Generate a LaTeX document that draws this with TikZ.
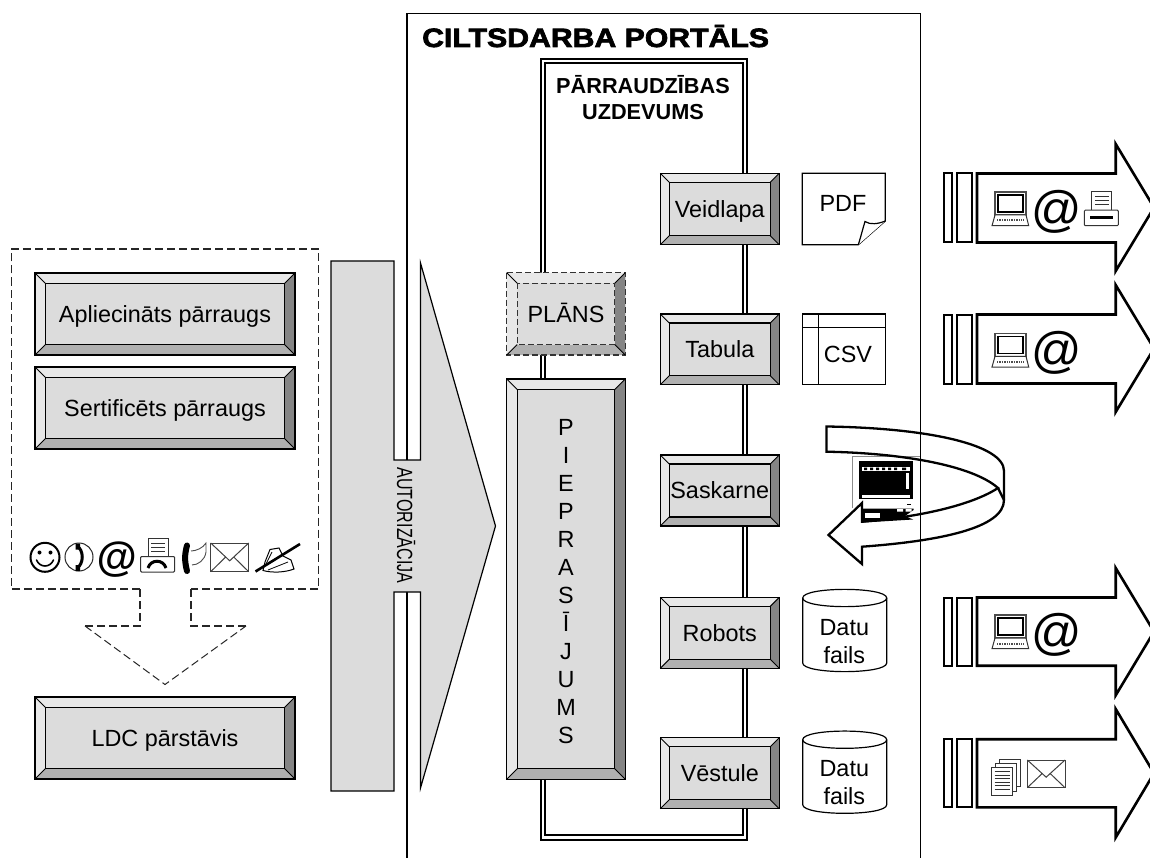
\documentclass[tikz,border=0pt]{standalone}
\usepackage{fontspec}
\usepackage{graphicx}
\setmainfont{Liberation Sans}
\newfontfamily\titlefont[UprightFont=* Bold,FakeBold=2.6,FakeStretch=1.14]{Liberation Sans}
\newcommand{\fs}[1]{\fontsize{#1}{#1}\selectfont}
\definecolor{bface}{HTML}{DCDCDC}
\definecolor{blight}{HTML}{E8E8E8}
\definecolor{bmid}{HTML}{B0B0B0}
\definecolor{bdark}{HTML}{858585}
\tikzset{
  lbl/.style={inner sep=0pt,font=\fs{23.4},text height=16.8pt,text depth=0pt,align=center},
  bline/.style={draw=black,line width=1.3pt,line join=miter},
  bdash/.style={draw=black!80,line width=1.3pt,dash pattern=on 6pt off 3pt},
  doc/.style={draw=black,line width=1.2pt,fill=white},
  bigarrow/.style={draw=black,line width=2.6pt,fill=white,line join=miter},
  dashbox/.style={draw=black!85,line width=1.3pt,dash pattern=on 8pt off 4pt},
  dline/.style={draw=black,line width=2pt,double=white,double distance=2.2pt},
  icon/.style={draw=black,line width=1pt,fill=white},
  atsign/.style={inner sep=0pt,font=\fs{50}\itshape}
}
% name,x1,y1,x2,y2,bevel,line style,text
\newcommand{\bevelbox}[8]{%
  \fill[blight] (#2,#3) -- (#4,#3) -- (#4-#6,#3+#6) -- (#2+#6,#3+#6) -- cycle;
  \fill[blight] (#2,#3) -- (#2+#6,#3+#6) -- (#2+#6,#5-#6) -- (#2,#5) -- cycle;
  \fill[bdark] (#4,#3) -- (#4,#5) -- (#4-#6,#5-#6) -- (#4-#6,#3+#6) -- cycle;
  \fill[bmid] (#2,#5) -- (#4,#5) -- (#4-#6,#5-#6) -- (#2+#6,#5-#6) -- cycle;
  \fill[bface] (#2+#6,#3+#6) rectangle (#4-#6,#5-#6);
  \draw[#7] (#2,#3) rectangle (#4,#5);
  \draw[#7] (#2+#6,#3+#6) rectangle (#4-#6,#5-#6);
  \draw[draw=black,line width=0.9pt] (#2,#3) -- (#2+#6,#3+#6) (#4,#3) -- (#4-#6,#3+#6)
     (#2,#5) -- (#2+#6,#5-#6) (#4,#5) -- (#4-#6,#5-#6);
  \node[lbl] (#1) at ({(#2+#4)/2},{(#3+#5)/2}) {#8};
}
% right-hand arrow: y of shaft top, y of shaft bottom, head top, head bottom
\newcommand{\sendarrow}[4]{%
  \draw[line width=2pt,draw=black] (943.5,#1) rectangle (951.5,#2);
  \draw[line width=2pt,draw=black] (956.5,#1) rectangle (971.5,#2);
  \draw[bigarrow] (977,#1) -- (1115.7,#1) -- (1115.7,#3+4) -- (1154,{(#3+#4)/2}) -- (1115.7,#4-4) -- (1115.7,#2) -- (977,#2) -- cycle;
}
\newcommand{\laptop}[2]{%
  \begin{scope}[shift={(#1,#2)}]
    \draw[icon,draw=black!70,line width=1.2pt] (3,0) rectangle (34,23);
    \draw[icon,line width=1.6pt] (6,3) rectangle (31,20);
    \draw[icon,draw=black!80] (3,23) -- (34,23) -- (36.7,33.7) -- (0,33.7) -- cycle;
    \draw[line width=2pt,draw=black!70,dash pattern=on 1.4pt off 1pt] (5,28.5) -- (32,28.5);
  \end{scope}}
\newcommand{\printer}[2]{%
  \begin{scope}[shift={(#1,#2)}]
    \draw[icon,draw=black!80] (7.4,0) rectangle (27.4,19);
    \draw[draw=black!80,line width=1pt] (10.5,5) -- (24.5,5) (10.5,9) -- (24.5,9) (10.5,13) -- (24.5,13);
    \draw[icon,draw=black!80,rounded corners=1pt] (0,18.5) rectangle (34,34);
    \draw[line width=3pt,draw=black] (6,26.3) -- (29,26.3);
  \end{scope}}
\newcommand{\envelope}[4]{%
  \begin{scope}[shift={(#1,#2)}]
    \draw[icon,draw=black!75] (0,0) rectangle (#3,#4);
    \draw[draw=black!75,line width=1pt] (0,0) -- ({#3/2},{#4*.62}) -- (#3,0)
      (0,#4) -- ({#3*.4},{#4*.48}) (#3,#4) -- ({#3*.6},{#4*.48});
  \end{scope}}
\begin{document}
\begin{tikzpicture}[x=1pt,y=-1pt]
\useasboundingbox (0,0) rectangle (1150,858);
\clip (0,0) rectangle (1150,858);
\fill[white] (0,0) rectangle (1150,858);

% portal
\draw[line width=1.3pt,draw=black] (407,870) -- (407,13.5) -- (920.5,13.5) -- (920.5,870);
\node[inner sep=0pt,anchor=base west,font=\titlefont\fs{26.5}] (portal) at (422,47) {CILTSDARBA PORTĀLS};

% authorisation arrow
\draw[fill=bface,draw=black,line width=1.2pt]
  (331,261) -- (394,261) -- (394,460) -- (420.5,460) -- (420.5,263) -- (495.5,526) -- (420.5,788)
  -- (420.5,592) -- (394,592) -- (394,791) -- (331,791) -- cycle;
\node[inner sep=0pt,rotate=-90,font=\fs{22}] (autor) at (406,525.5) {\scalebox{0.73}[1]{AUTORIZĀCIJA}};

% monitoring loop
\coordinate (loopA) at (543.3,61);
\coordinate (loopB) at (744.7,61);
\coordinate (loopC) at (744.7,837.5);
\coordinate (loopD) at (543.3,837.5);
\draw[dline] (loopA) -- (loopB) -- (loopC) -- (loopD) -- cycle;
\node[inner sep=0pt,align=center,anchor=base,font=\bfseries\fs{21.7}] (uzd1) at (643,94) {PĀRRAUDZĪBAS};
\node[inner sep=0pt,align=center,anchor=base,font=\bfseries\fs{21.7}] (uzd2) at (643,120) {UZDEVUMS};

% left group
\draw[dashbox] (140,589) -- (11.5,589) -- (11.5,249) -- (318.5,249) -- (318.5,589) -- (191,589);
\draw[dashbox] (140,589) -- (140,626) -- (85,626);
\draw[dashbox] (191,589) -- (191,626) -- (246,626);
\draw[dashbox,line width=1pt] (85,626) -- (165,684.5) -- (246,626);
\bevelbox{apl}{35}{273}{295}{355}{10.5}{bline}{Apliecināts pārraugs}
\bevelbox{sert}{35}{367}{295}{449}{10.5}{bline}{Sertificēts pārraugs}
\bevelbox{ldc}{35}{697}{295}{779}{10.5}{bline}{LDC pārstāvis}

% left icon row
\draw[line width=2pt,draw=black] (45,557.3) circle[radius=14.5];
\fill[black] (39.5,552.5) circle[radius=2] (50.5,552.5) circle[radius=2];
\draw[line width=1.6pt,draw=black,line cap=round] (36.5,560) .. controls (40,568) and (50,568) .. (53.5,560);
\draw[line width=1pt,draw=black!85] (79,557) circle[radius=14];
\draw[line width=3pt,draw=black] (77,546) .. controls (84,550) and (84,564) .. (77,568);
\fill[black] (75.5,543.5) rectangle (80,549.5) (75.5,565) rectangle (80,571);
\node[inner sep=0pt,font=\fs{41}\bfseries\itshape] (at0) at (116.5,560) {@};
\printer{140.7}{538}
\fill[white] (145,561) rectangle (170,570);
\draw[line width=3pt,draw=black] (148,568) .. controls (151,559) and (163,559) .. (166,568);
\draw[line width=6pt,draw=black,line cap=round] (187,545.5) .. controls (184.5,555) and (184.5,561) .. (187,571);
\draw[line width=0.9pt,draw=black!70] (191,551) .. controls (196,551) and (203,548) .. (206,543) -- (206,552) .. controls (205,560) and (198,565) .. (192,565);
\envelope{210.7}{543}{38}{28.7}
\draw[line width=1pt,draw=black,fill=white] (270,549.5) -- (279,548) -- (283,556) -- (291,560) -- (294,569) .. controls (285,572.5) and (272,573) .. (263,570.5) -- (265,562) -- cycle;
\draw[line width=0.8pt,draw=black] (268,570) -- (288,562) (272,552) -- (266,564);
\draw[line width=2.6pt,draw=black] (255.5,571.5) -- (300,544);

% middle column
\bevelbox{plans}{506.7}{272.7}{625.3}{355}{10.5}{bdash}{PLĀNS}
\bevelbox{piepr}{506.7}{379}{625.3}{779.3}{10.5}{bline}{}
\foreach \c/\y in {P/427,I/455,E/483,P/511,R/539,A/567,S/595,Ī/623,J/651,U/679,M/707,S/735}
  \node[lbl] at (566,\y) {\c};

\bevelbox{veid}{660.3}{173.3}{779.3}{244.7}{9}{bline}{Veidlapa}
\bevelbox{tab}{660.3}{314}{779.3}{384.7}{9}{bline}{Tabula}
\bevelbox{sask}{660.3}{455}{779.3}{526}{9}{bline}{Saskarne}
\bevelbox{rob}{660.3}{597.3}{779.3}{668.3}{9}{bline}{Robots}
\bevelbox{vest}{660.3}{737.7}{779.3}{808.7}{9}{bline}{Vēstule}

% documents
\draw[doc,line join=miter] (802.3,173.3) -- (885.3,173.3) -- (885.3,221) -- (858.3,244.7) -- (802.3,244.7) -- cycle;
\draw[doc] (858.3,244.7) .. controls (861,236) and (863,228) .. (865,221.5) .. controls (870,225) and (878,224) .. (885.3,221);
\node[lbl] (pdf) at (843,202.7) {PDF};
\draw[doc] (802.3,314) rectangle (885.3,384.3);
\draw[line width=1.2pt,draw=black] (802.3,327.7) -- (885.3,327.7) (818.3,314) -- (818.3,384.3);
\node[lbl] (csv) at (848,354) {CSV};

\draw[doc] (802.7,598) .. controls (802.7,586.5) and (886.7,586.5) .. (886.7,598) -- (886.7,663) .. controls (886.7,674.5) and (802.7,674.5) .. (802.7,663) -- cycle;
\draw[line width=1.2pt,draw=black] (802.7,598) .. controls (802.7,609.5) and (886.7,609.5) .. (886.7,598);
\node[lbl] (d1a) at (844.3,627) {Datu};
\node[lbl] (d1b) at (844.3,655) {fails};
\draw[doc] (802.7,739.7) .. controls (802.7,728.2) and (886.7,728.2) .. (886.7,739.7) -- (886.7,804.7) .. controls (886.7,816.2) and (802.7,816.2) .. (802.7,804.7) -- cycle;
\draw[line width=1.2pt,draw=black] (802.7,739.7) .. controls (802.7,751.2) and (886.7,751.2) .. (886.7,739.7);
\node[lbl] (d2a) at (844.3,768) {Datu};
\node[lbl] (d2b) at (844.3,796) {fails};

% monitor
\draw[line width=0.9pt,draw=black!45] (852.7,508) -- (852.7,456) -- (919.5,456);
\fill[black] (859.3,461) rectangle (912.7,499.3);
\fill[white] (861.5,466.5) rectangle (910,471);
\fill[black] (864,467.5) rectangle (867,470) (870,467.5) rectangle (873,470) (876,467.5) rectangle (879,470)
  (882,467.5) rectangle (885,470) (888,467.5) rectangle (891,470) (894,467.5) rectangle (897,470) (902,467.5) rectangle (906,470);
\fill[white] (861.5,495) rectangle (910,497.7);
\fill[white] (906,473) rectangle (908.5,489);
\fill[black] (861,508.5) -- (913.5,508.5) -- (913.5,510) -- (905,516) -- (913,519.5) -- (861,522.7) -- cycle;
\fill[white] (865,513) rectangle (880,518);
\fill[white] (897,509) rectangle (903,511.5) (905.5,509) rectangle (911.5,511.5);
\fill[black] (907,503.5) rectangle (911,505);

% swirl arrow
\draw[line width=2.3pt,draw=black,line join=miter]
  (826.5,426.5) -- (826.5,451.7) .. controls (900,453) and (972,465) .. (998,488)
  .. controls (972,505) and (920,517) .. (862,521.7) -- (862,503) -- (828.5,535) -- (862,564) -- (862,546.7)
  .. controls (940,541) and (1004,528) .. (1004,500) -- (1004,471) .. controls (1004,445) and (930,428) .. (826.5,426.5) -- cycle;
\draw[line width=2.3pt,draw=black] (998,488) -- (1004,500);

% outgoing arrows
\sendarrow{173.5}{242.5}{140}{275}
\laptop{992}{192}
\node[atsign] (at1) at (1056,212) {@};
\printer{1084.3}{191.7}

\sendarrow{314.5}{383.5}{281}{416}
\laptop{992}{333.3}
\node[atsign] (at2) at (1056,353.3) {@};

\sendarrow{597.5}{665.7}{564}{699.3}
\laptop{992}{615}
\node[atsign] (at3) at (1056,635) {@};

\sendarrow{739.2}{807.3}{705}{841.5}
\draw[icon,draw=black!80] (999.7,759) rectangle (1020,786);
\draw[icon,draw=black!80] (995.7,763) rectangle (1016,791);
\draw[icon,draw=black!80] (991.7,767.3) rectangle (1012.3,795);
\draw[line width=1pt,draw=black!80] (994.5,771.5) -- (1009.5,771.5) (994.5,775) -- (1009.5,775) (994.5,778.5) -- (1009.5,778.5) (994.5,782) -- (1009.5,782) (994.5,785.5) -- (1009.5,785.5) (994.5,789) -- (1009.5,789);
\envelope{1027.3}{760}{37.7}{27.7}
\end{tikzpicture}
\end{document}
